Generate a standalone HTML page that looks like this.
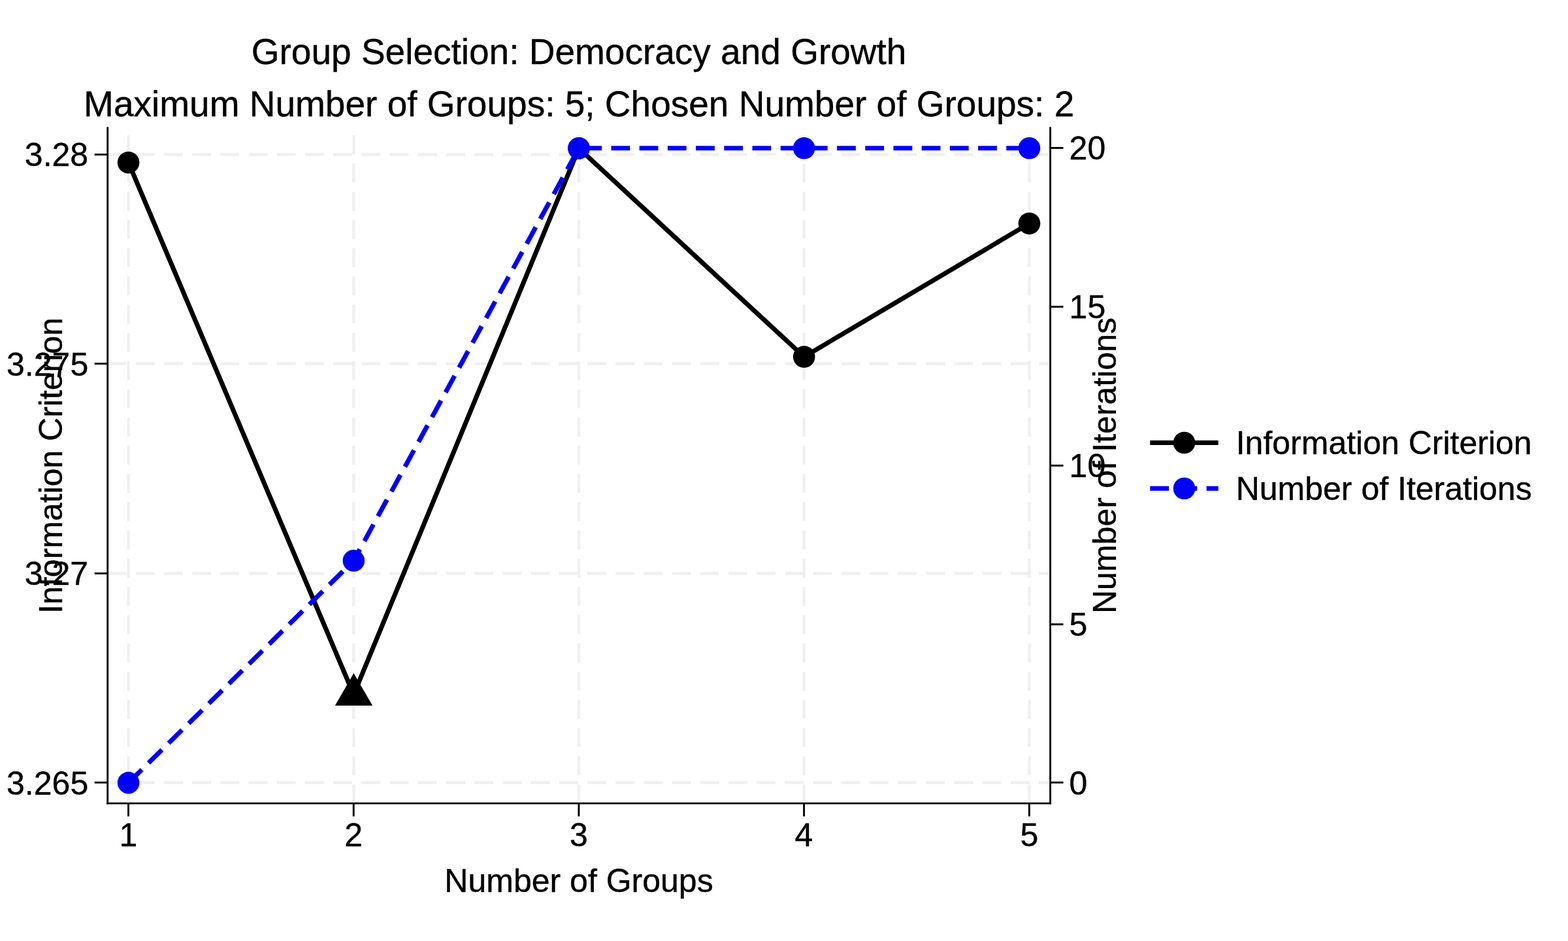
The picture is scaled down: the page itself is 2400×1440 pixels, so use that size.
<!DOCTYPE html>
<html lang="en"><head><meta charset="utf-8"><title>Group Selection: Democracy and Growth</title>
<style>html,body{margin:0;padding:0;background:#fff;}body{width:2400px;height:1440px;overflow:hidden;}svg{display:block;}text{font-family:'Liberation Sans', Arial, Helvetica, sans-serif;fill:#000;stroke:#000;stroke-width:0.4px;stroke-linejoin:round;}</style></head><body>
<svg width="2400" height="1440" viewBox="0 0 2400 1440">
<rect x="0" y="0" width="2400" height="1440" fill="#ffffff"/>
<clipPath id="pr"><rect x="166.2" y="196" width="1438.4" height="1030.7"/></clipPath>
<g clip-path="url(#pr)" stroke="#f0f0f0" stroke-width="4.30" fill="none" stroke-dasharray="28.8 14.4">
<line x1="164.6" y1="236.50" x2="1650" y2="236.50"/>
<line x1="164.6" y1="556.50" x2="1650" y2="556.50"/>
<line x1="164.6" y1="877.50" x2="1650" y2="877.50"/>
<line x1="164.6" y1="1197.50" x2="1650" y2="1197.50"/>
<line x1="196.60" y1="1229.5" x2="196.60" y2="150"/>
<line x1="541.35" y1="1229.5" x2="541.35" y2="150"/>
<line x1="886.00" y1="1229.5" x2="886.00" y2="150"/>
<line x1="1230.70" y1="1229.5" x2="1230.70" y2="150"/>
<line x1="1575.50" y1="1229.5" x2="1575.50" y2="150"/>
</g>
<g stroke="#000" stroke-width="2.90" fill="none" stroke-linecap="butt">
<line x1="164.70" y1="194.30" x2="164.70" y2="1230.80"/>
<line x1="1607.60" y1="194.30" x2="1607.60" y2="1230.80"/>
<line x1="163.25" y1="1229.35" x2="1609.05" y2="1229.35"/>
<line x1="196.50" y1="1229.35" x2="196.50" y2="1249.35"/>
<line x1="541.25" y1="1229.35" x2="541.25" y2="1249.35"/>
<line x1="885.90" y1="1229.35" x2="885.90" y2="1249.35"/>
<line x1="1230.60" y1="1229.35" x2="1230.60" y2="1249.35"/>
<line x1="1575.40" y1="1229.35" x2="1575.40" y2="1249.35"/>
<line x1="144.70" y1="236.50" x2="164.70" y2="236.50"/>
<line x1="144.70" y1="556.50" x2="164.70" y2="556.50"/>
<line x1="144.70" y1="877.50" x2="164.70" y2="877.50"/>
<line x1="144.70" y1="1197.50" x2="164.70" y2="1197.50"/>
<line x1="1607.60" y1="1197.45" x2="1627.60" y2="1197.45"/>
<line x1="1607.60" y1="955.40" x2="1627.60" y2="955.40"/>
<line x1="1607.60" y1="712.45" x2="1627.60" y2="712.45"/>
<line x1="1607.60" y1="469.40" x2="1627.60" y2="469.40"/>
<line x1="1607.60" y1="226.40" x2="1627.60" y2="226.40"/>
</g>
<polyline points="196.60,248.75 541.35,1063.00 886.00,227.00 1230.70,546.00 1575.50,342.00" fill="none" stroke="#000" stroke-width="7.10" stroke-linejoin="round"/>
<circle cx="196.60" cy="248.75" r="16.80" fill="#000"/>
<circle cx="886.00" cy="227.00" r="16.80" fill="#000"/>
<circle cx="1230.70" cy="546.00" r="16.80" fill="#000"/>
<circle cx="1575.50" cy="342.00" r="16.80" fill="#000"/>
<polyline points="196.60,1197.90 541.35,858.02 886.00,226.80 1230.70,226.80 1575.50,226.80" fill="none" stroke="#0000ff" stroke-width="7.10" stroke-dasharray="28.8 14.4" stroke-linejoin="round"/>
<circle cx="196.60" cy="1197.90" r="16.80" fill="#0000ff"/>
<circle cx="541.35" cy="858.02" r="16.80" fill="#0000ff"/>
<circle cx="886.00" cy="226.80" r="16.80" fill="#0000ff"/>
<circle cx="1230.70" cy="226.80" r="16.80" fill="#0000ff"/>
<circle cx="1575.50" cy="226.80" r="16.80" fill="#0000ff"/>
<polygon points="541.4,1030.2 512.8,1079.8 570.2,1079.8" fill="#000"/>
<line x1="1760.3" y1="677.50" x2="1864.8" y2="677.50" stroke="#000" stroke-width="7.10"/>
<circle cx="1812.6" cy="677.50" r="16.80" fill="#000"/>
<line x1="1760.3" y1="747.50" x2="1864.8" y2="747.50" stroke="#0000ff" stroke-width="7.10" stroke-dasharray="28.8 14.4"/>
<circle cx="1812.6" cy="747.50" r="16.80" fill="#0000ff"/>
<g font-size="50">
<text x="1891.7" y="695">Information Criterion</text>
<text x="1891.7" y="765">Number of Iterations</text>
<text x="196.40" y="1295.1" text-anchor="middle">1</text>
<text x="541.15" y="1295.1" text-anchor="middle">2</text>
<text x="885.80" y="1295.1" text-anchor="middle">3</text>
<text x="1230.50" y="1295.1" text-anchor="middle">4</text>
<text x="1575.30" y="1295.1" text-anchor="middle">5</text>
<text x="135.2" y="254.20" text-anchor="end">3.28</text>
<text x="135.2" y="575.10" text-anchor="end">3.275</text>
<text x="135.2" y="895.10" text-anchor="end">3.27</text>
<text x="135.2" y="1216.00" text-anchor="end">3.265</text>
<text x="1636.6" y="1216.00">0</text>
<text x="1636.6" y="973.00">5</text>
<text x="1636.6" y="730.00">10</text>
<text x="1636.6" y="487.00">15</text>
<text x="1636.6" y="244.00">20</text>
<text x="886" y="1365" text-anchor="middle">Number of Groups</text>
<text transform="translate(95.3,712.5) rotate(-90)" text-anchor="middle">Information Criterion</text>
<text transform="translate(1707.5,712.5) rotate(-90)" text-anchor="middle">Number of Iterations</text>
</g>
<g font-size="55">
<text x="886.1" y="97.7" text-anchor="middle">Group Selection: Democracy and Growth</text>
<text x="886.2" y="178" text-anchor="middle">Maximum Number of Groups: 5; Chosen Number of Groups: 2</text>
</g>
</svg></body></html>
